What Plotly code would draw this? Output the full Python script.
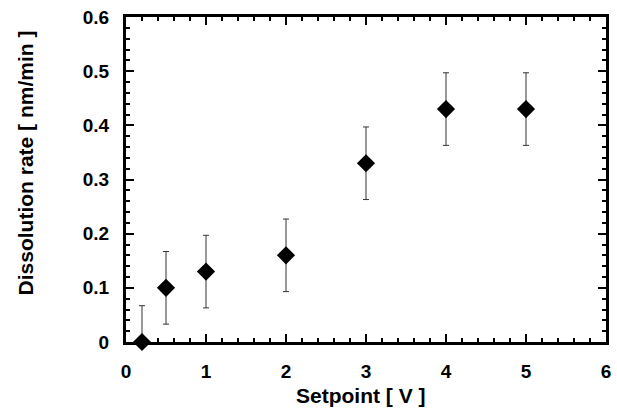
import plotly.graph_objects as go

setpoint = [0.2, 0.5, 1, 2, 3, 4, 5]
rate = [0.0, 0.1, 0.13, 0.16, 0.33, 0.43, 0.43]
err = [0.067, 0.067, 0.067, 0.067, 0.067, 0.067, 0.067]

fig = go.Figure(go.Scatter(
    x=setpoint, y=rate, mode="markers",
    marker=dict(symbol="diamond", size=14, color="black"),
    error_y=dict(type="data", array=err, visible=True, color="#333", thickness=1, width=3),
    cliponaxis=False,
))

font = "Liberation Sans"
axis_style = dict(
    showline=True, linecolor="black", linewidth=3, mirror="allticks",
    ticks="inside", ticklen=8, tickwidth=2, tickcolor="black",
    minor=dict(ticks="inside", ticklen=4, tickwidth=1.5, tickcolor="black"),
    showgrid=False, zeroline=False, automargin=False,
    tickfont=dict(family=font, size=19, color="black", weight="bold"),
)

fig.update_xaxes(range=[0, 6], dtick=1, minor_dtick=0.2, ticklabelstandoff=10, **axis_style)
fig.update_yaxes(range=[0, 0.6], dtick=0.1, minor_dtick=0.02, tickformat=".1~f",
                 ticklabelstandoff=10, **axis_style)

title_font = dict(family=font, size=21, color="black", weight="bold")
fig.add_annotation(text="Setpoint [ V ]", xref="paper", yref="paper", x=0.49, y=-0.165,
                   xanchor="center", yanchor="middle", showarrow=False, font=title_font)
fig.add_annotation(text="Dissolution rate [ nm/min ]", xref="paper", yref="paper", x=-0.21, y=0.55,
                   xanchor="center", yanchor="middle", textangle=-90, showarrow=False, font=title_font)

fig.update_layout(
    width=617, height=417, showlegend=False,
    margin=dict(l=126, r=11, t=17, b=75),
    plot_bgcolor="white", paper_bgcolor="white",
)

fig.write_html("out.html", config={"displayModeBar": False},
               post_script="document.body.style.margin='0';")
